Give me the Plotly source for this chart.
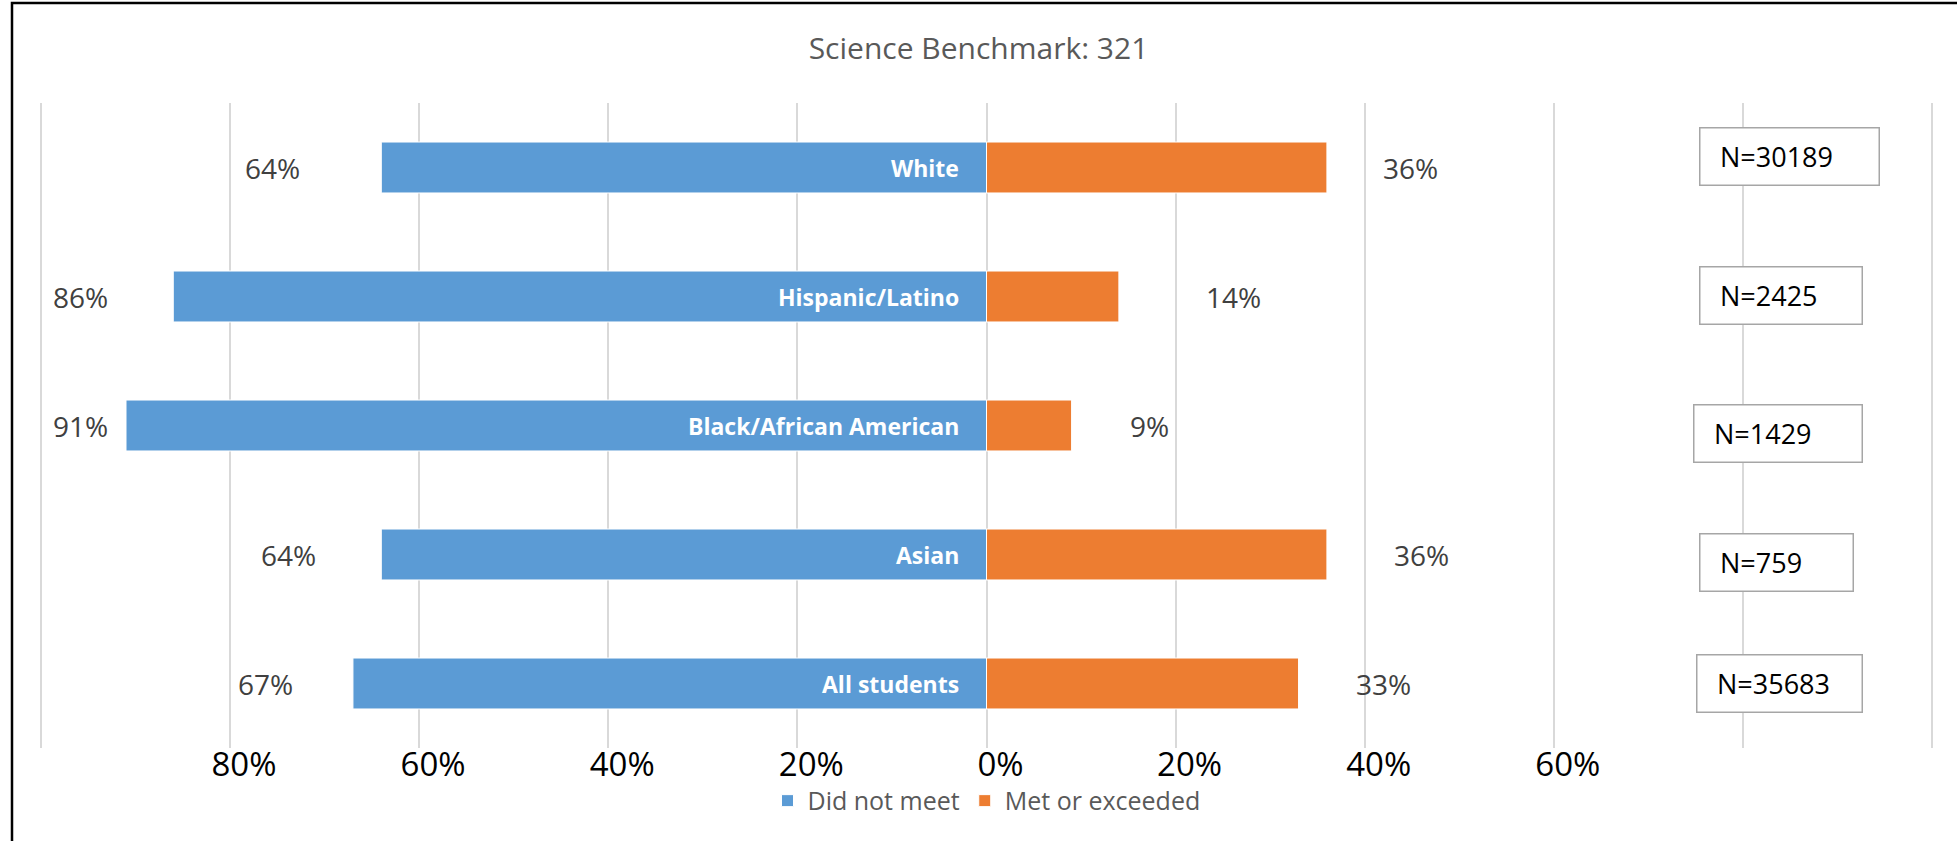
import plotly.graph_objects as go

# data, top to bottom as in the chart
groups = ["White", "Hispanic/Latino", "Black/African American", "Asian", "All students"]
did_not_meet = [64, 86, 91, 64, 67]
met_or_exceeded = [36, 14, 9, 36, 33]
n_counts = [30189, 2425, 1429, 759, 35683]

tick_vals = [-100, -80, -60, -40, -20, 0, 20, 40, 60, 80, 100]
tick_text = ["", "80%", "60%", "40%", "20%", "0%", "20%", "40%", "60%", "", ""]

BLUE = "#5B9BD5"
ORANGE = "#ED7D31"
FONT = "Open Sans"

# hand-placed label offsets (px), as in the original Excel chart
left_label_shift = [-109, -93, -46, -93, -87]
right_label_shift = [84, 115, 78, 95, 85]
box_x = 75
box_shift_x = [3, 3, -3, 3, 0]
box_shift_y = [11, 1, -8, -8, 0]
box_width = [180, 163, 169, 154, 166]

W, H = 1957, 841
M = dict(l=39, r=23, t=103, b=93)

fig = go.Figure()
fig.add_trace(go.Bar(
    y=groups, x=[-v for v in did_not_meet], name="Did not meet",
    orientation="h", width=0.395,
    marker=dict(color=BLUE, line=dict(color="white", width=1)),
    hoverinfo="skip",
))
fig.add_trace(go.Bar(
    y=groups, x=met_or_exceeded, name="Met or exceeded",
    orientation="h", width=0.395,
    marker=dict(color=ORANGE, line=dict(color="white", width=1)),
    hoverinfo="skip",
))

annotations = []
for i, g in enumerate(groups):
    # group name inside the blue bar, next to 0
    annotations.append(dict(
        x=0, y=g, text=f"<b>{g}</b>", showarrow=False, xanchor="right",
        xshift=-26, font=dict(family=FONT, size=23, color="white"),
    ))
    annotations.append(dict(
        x=-did_not_meet[i], y=g, text=f"{did_not_meet[i]}%", showarrow=False,
        xshift=left_label_shift[i], font=dict(family=FONT, size=28, color="#404040"),
    ))
    annotations.append(dict(
        x=met_or_exceeded[i], y=g, text=f"{met_or_exceeded[i]}%", showarrow=False,
        xshift=right_label_shift[i], font=dict(family=FONT, size=28, color="#404040"),
    ))
    # N boxes
    annotations.append(dict(
        x=box_x, y=g, text=" ", showarrow=False, xanchor="left",
        xshift=box_shift_x[i], yshift=box_shift_y[i],
        width=box_width[i] - 2, height=56, borderpad=0,
        bordercolor="#a6a6a6", borderwidth=1.5, bgcolor="white",
        font=dict(family=FONT, size=10),
    ))
    annotations.append(dict(
        x=box_x, y=g, text=f"N={n_counts[i]}", showarrow=False, xanchor="left",
        xshift=box_shift_x[i] + 19, yshift=box_shift_y[i],
        font=dict(family=FONT, size=27, color="black"),
    ))

plot_w = W - M["l"] - M["r"]
plot_h = H - M["t"] - M["b"]
frame_x0 = (12 - M["l"]) / plot_w
frame_y1 = (H - M["b"] - 3) / plot_h

fig.update_layout(
    width=W, height=H, margin=M,
    paper_bgcolor="white", plot_bgcolor="white",
    barmode="relative",
    title=dict(text="Science Benchmark: 321", x=0.5, xanchor="center",
               y=1 - 48 / H, yanchor="middle", yref="container",
               font=dict(family=FONT, size=30, color="#595959")),
    legend=dict(orientation="h", x=0.5, xanchor="center", y=-0.082, yanchor="middle",
                font=dict(family=FONT, size=25, color="#595959"),
                traceorder="normal"),
    annotations=annotations,
    shapes=[dict(type="rect", xref="paper", yref="paper",
                 x0=frame_x0, x1=1.2, y0=-0.5, y1=frame_y1,
                 line=dict(color="black", width=2.5), layer="above")],
    font=dict(family=FONT),
)
fig.update_xaxes(range=[-100.2, 100.2], tickvals=tick_vals, ticktext=tick_text,
                 showgrid=True, gridcolor="#d9d9d9", gridwidth=1.5,
                 zeroline=False, showline=False, ticks="",
                 tickfont=dict(family=FONT, size=33, color="black"),
                 ticklabelshift=14, ticklabelstandoff=-6, fixedrange=True)
fig.update_yaxes(categoryorder="array", categoryarray=groups,
                 range=[4.5, -0.5], showticklabels=False, showgrid=False,
                 zeroline=False, fixedrange=True)

fig.write_html("out.html", config={"displayModeBar": False},
               post_script="document.body.style.margin = '0';")
